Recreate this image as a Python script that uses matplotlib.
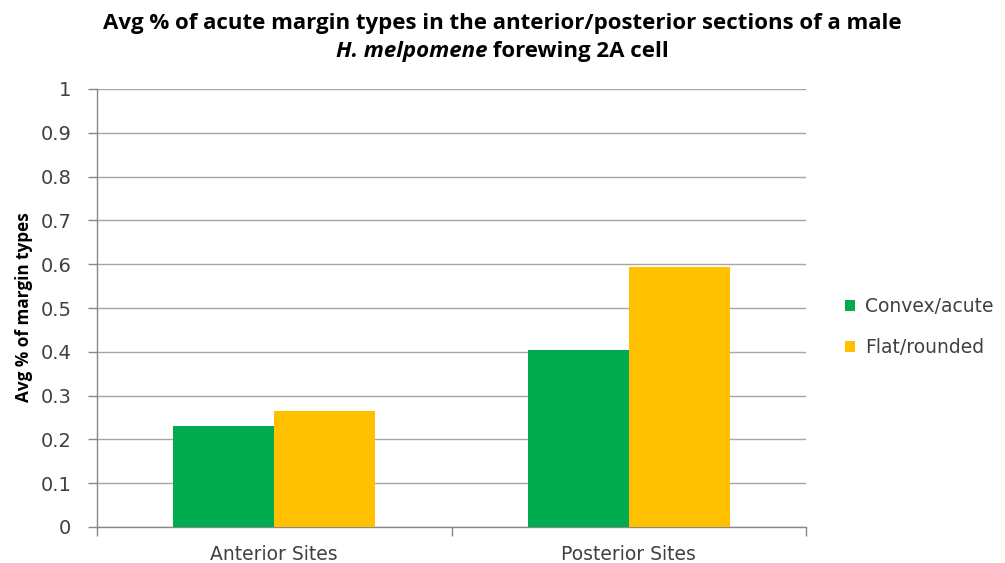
import matplotlib
matplotlib.use("Agg")
import matplotlib.pyplot as plt
import numpy as np

categories = ["Anterior Sites", "Posterior Sites"]
series_names = ["Convex/acute", "Flat/rounded"]
convex = [0.23, 0.405]
flat = [0.265, 0.594]
yticks = [0, 0.1, 0.2, 0.3, 0.4, 0.5, 0.6, 0.7, 0.8, 0.9, 1]
ytick_labels = ["0", "0.1", "0.2", "0.3", "0.4", "0.5", "0.6", "0.7", "0.8", "0.9", "1"]
colors = ["#00AC4F", "#FFC000"]
txt_font = "DejaVu Sans"
title_font = "Open Sans"

fig = plt.figure(figsize=(10.05, 5.63), dpi=100)
ax = fig.add_axes([97/1005, 36/563, (806-97)/1005, (527-89)/563])

x = np.arange(len(categories))
w = 0.285
ax.bar(x - w/2, convex, w, color=colors[0], label=series_names[0], zorder=3)
ax.bar(x + w/2, flat, w, color=colors[1], label=series_names[1], zorder=3)

ax.set_xlim(-0.5, len(categories) - 0.5)
ax.set_ylim(0, 1)
ax.set_yticks(yticks)
ax.set_yticklabels(ytick_labels, fontname=txt_font, fontsize=14, color="#404040")
ax.yaxis.grid(True, color="#A6A6A6", linewidth=1, zorder=0)
ax.set_xticks(x)
ax.set_xticklabels(categories, fontname=txt_font, fontsize=13.5, color="#404040")
ax.tick_params(axis="x", length=0, pad=13)
ax.tick_params(axis="y", length=6.5, color="#888888", width=1, pad=12)
ax.set_xticks(np.arange(len(categories) + 1) - 0.5, minor=True)
ax.tick_params(axis="x", which="minor", length=6.5, color="#888888", width=1)
for s in ["top", "right"]:
    ax.spines[s].set_visible(False)
for s in ["left", "bottom"]:
    ax.spines[s].set_color("#888888")
    ax.spines[s].set_linewidth(1)

ax.set_ylabel("Avg % of margin types", fontname=title_font, fontweight="bold", fontsize=12.3)
ax.yaxis.set_label_coords((33 - 97) / 709, (527 - 307) / 438)

leg = fig.legend(loc="upper left", bbox_to_anchor=(828/1005, 1 - 280/563), frameon=False,
                 prop={"family": txt_font, "size": 13.5}, handlelength=0.55, handleheight=0.55,
                 handletextpad=0.55, labelspacing=1.2)
for t in leg.get_texts():
    t.set_color("#404040")

# Title (size fitted to the reference line width)
W = fig.bbox.width
fig.canvas.draw()
r = fig.canvas.get_renderer()
t0 = fig.text(0.5, 1 - 23/563, "Avg % of acute margin types in the anterior/posterior sections of a male",
              ha="center", va="center", fontname=title_font, fontweight="bold", fontsize=15)
w0 = t0.get_window_extent(r).width
fs = 15 * 800 / w0
t0.set_fontsize(fs)
t1 = fig.text(0, 1 - 51/563, "H. melpomene", ha="left", va="center", fontname=title_font,
              fontweight="bold", fontstyle="italic", fontsize=fs)
t2 = fig.text(0, 1 - 51/563, " forewing 2A cell", ha="left", va="center", fontname=title_font,
              fontweight="bold", fontsize=fs)
w1 = t1.get_window_extent(r).width
w2 = t2.get_window_extent(r).width
start = (W - (w1 + w2)) / 2
t1.set_x(start / W)
t2.set_x((start + w1) / W)

fig.savefig("out.png", dpi=100)
